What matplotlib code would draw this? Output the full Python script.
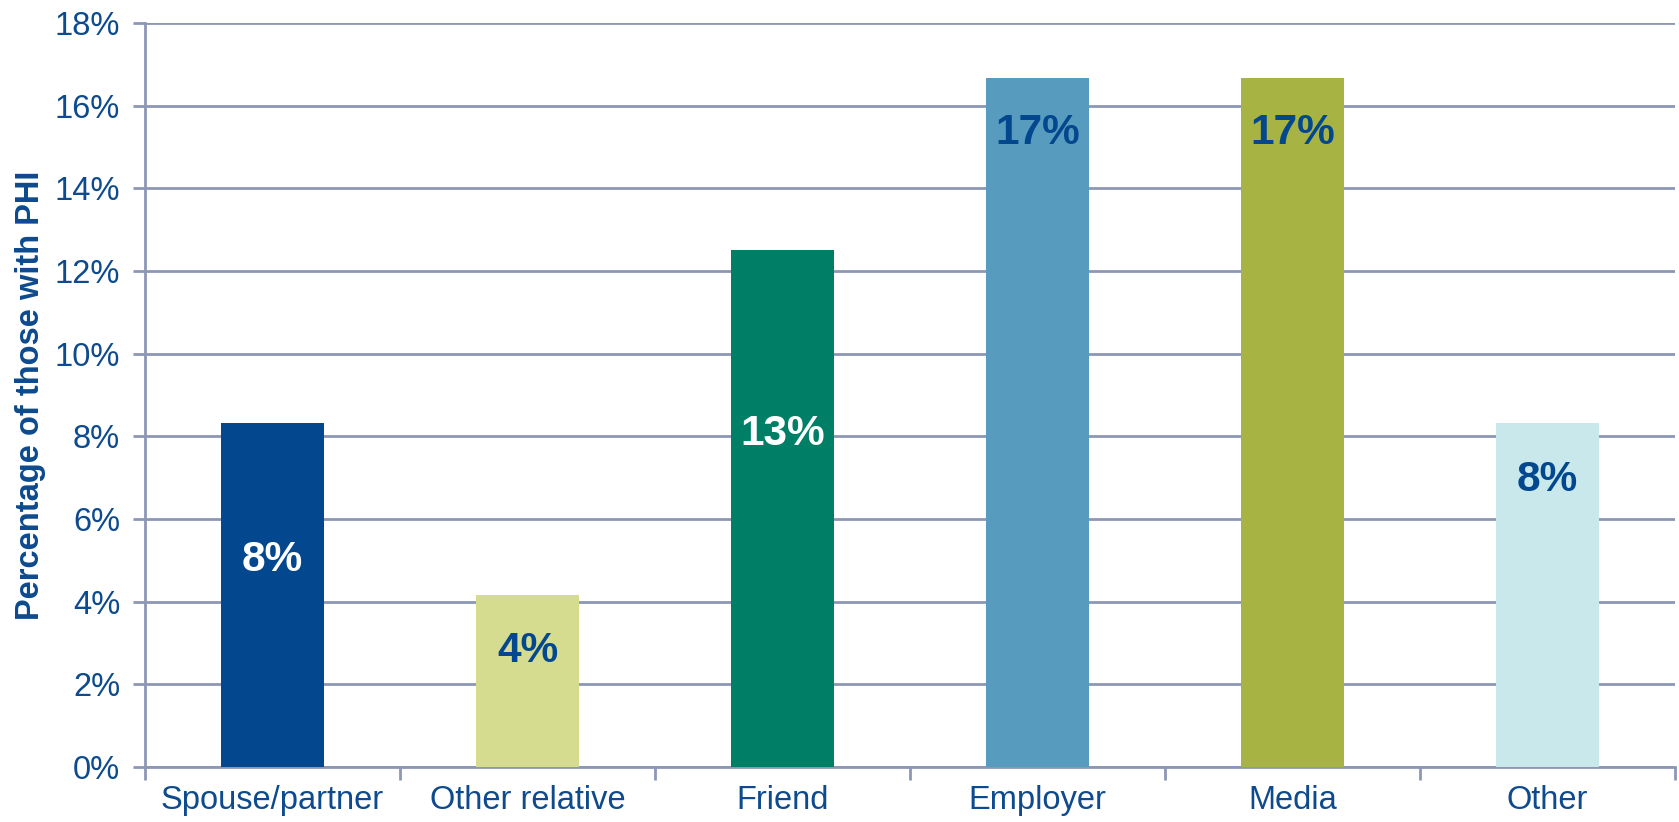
import matplotlib.pyplot as plt
import numpy as np

plt.rcParams['font.family'] = ['Liberation Sans', 'DejaVu Sans']

categories = ['Spouse/partner', 'Other relative', 'Friend', 'Employer', 'Media', 'Other']
values = [8.33, 4.17, 12.5, 16.67, 16.67, 8.33]
labels = ['8%', '4%', '13%', '17%', '17%', '8%']
colors = ['#03488E', '#D5DB8F', '#007F67', '#579BBF', '#A7B342', '#C9E8EC']
label_colors = ['white', '#03488E', 'white', '#03488E', '#03488E', '#03488E']
label_y = [5.0, 2.8, 8.05, 15.35, 15.35, 6.95]

text_col = '#0D4A8E'
grid_col = '#8C97B5'

fig = plt.figure(figsize=(16.79, 8.22), dpi=100)
ax = fig.add_axes([0.0864, 0.0669, 0.9112, 0.9051])

x = np.arange(len(categories))
ax.bar(x, values, width=0.405, color=colors, zorder=3)
for i in range(len(x)):
    ax.text(x[i], label_y[i], labels[i], ha='center', va='center',
            fontsize=30.5, fontweight='bold', color=label_colors[i], zorder=4)

ax.set_xlim(-0.5, 5.5)
ax.set_ylim(0, 18)
ax.set_yticks(np.arange(0, 19, 2))
ax.set_yticklabels([f'{v}%' for v in range(0, 19, 2)])
ax.yaxis.grid(True, color=grid_col, linewidth=2, zorder=1)

ax.set_xticks(x)
ax.set_xticklabels(categories)
ax.set_xticks(np.arange(-0.5, 6, 1), minor=True)
ax.tick_params(axis='x', which='major', length=0, pad=13, labelsize=23.5, labelcolor=text_col)
ax.tick_params(axis='x', which='minor', length=9, width=2, color=grid_col)
ax.tick_params(axis='y', length=9, width=2, color=grid_col, pad=9, labelsize=23.5, labelcolor=text_col)

for s in ['top', 'right']:
    ax.spines[s].set_visible(False)
for s in ['left', 'bottom']:
    ax.spines[s].set_color(grid_col)
    ax.spines[s].set_linewidth(2)

ax.set_ylabel('Percentage of those with PHI', fontsize=23.5, fontweight='bold', color=text_col, labelpad=6)

fig.savefig('out.png', dpi=100)
